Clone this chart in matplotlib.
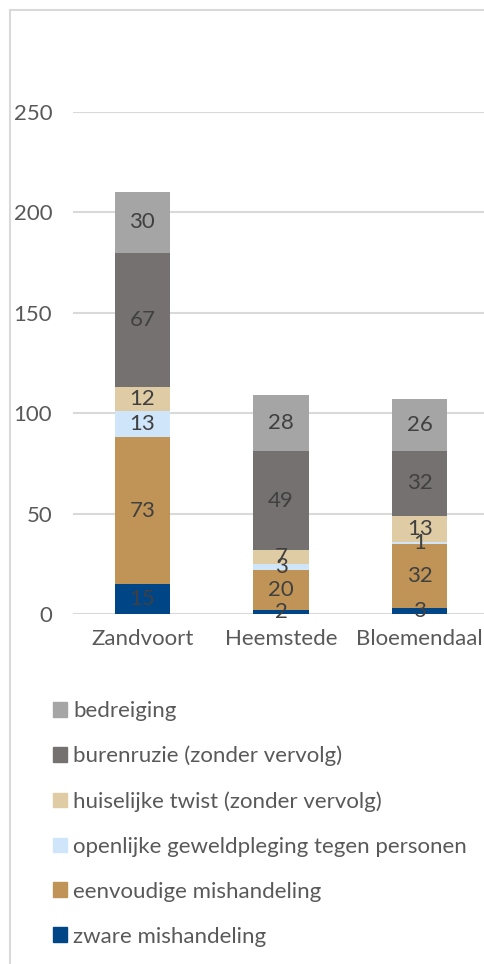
import matplotlib.pyplot as plt
from matplotlib.patches import Rectangle, Patch

plt.rcParams['font.family'] = ['Lato', 'DejaVu Sans']

# Data
gemeenten = ['Zandvoort', 'Heemstede', 'Bloemendaal']
categorieen = ['zware mishandeling', 'eenvoudige mishandeling',
               'openlijke geweldpleging tegen personen',
               'huiselijke twist (zonder vervolg)',
               'burenruzie (zonder vervolg)', 'bedreiging']
zware = [15, 2, 3]
eenvoudige = [73, 20, 32]
openlijke = [13, 3, 1]
huiselijke = [12, 7, 13]
burenruzie = [67, 49, 32]
bedreiging = [30, 28, 26]
reeksen = [zware, eenvoudige, openlijke, huiselijke, burenruzie, bedreiging]
kleuren = ['#004586', '#BF9456', '#CFE6FA', '#DFCBA4', '#767171', '#A5A5A5']
yticks = [0, 50, 100, 150, 200, 250]

W, H = 484, 964
fig = plt.figure(figsize=(W / 100, H / 100), dpi=100)
ax = fig.add_axes([73 / W, (H - 614) / H, 416 / W, 502 / H])

x = list(range(len(gemeenten)))
bottom = [0] * len(gemeenten)
for vals, kleur, naam in zip(reeksen, kleuren, categorieen):
    ax.bar(x, vals, width=0.4, bottom=bottom, color=kleur, label=naam, zorder=3)
    for xi, b, v in zip(x, bottom, vals):
        ax.text(xi, b + v / 2, str(v), ha='center', va='center',
                fontsize=16, color='#404040', zorder=4)
    bottom = [b + v for b, v in zip(bottom, vals)]

ax.set_xlim(-0.5, 2.5)
ax.set_ylim(0, 250)
ax.set_yticks(yticks)
ax.set_xticks(x)
ax.set_xticklabels(gemeenten)
ax.grid(axis='y', color='#D9D9D9', linewidth=1.5, zorder=0)
for s in ax.spines.values():
    s.set_visible(False)
ax.tick_params(length=0, labelsize=16, colors='#595959')
ax.tick_params(axis='y', pad=15)
ax.tick_params(axis='x', pad=11)

# legend, top entry first
handles = [Patch(color=k) for k in kleuren][::-1]
fig.legend(handles, categorieen[::-1], loc='upper left',
           bbox_to_anchor=(44 / W, 1 - 692 / H), frameon=False,
           fontsize=16, labelcolor='#595959', handlelength=0.65,
           handleheight=0.65, handletextpad=0.25, labelspacing=1.12,
           borderaxespad=0)

# chart border
fig.patches.append(Rectangle((10 / W, -0.01), 1.0, 1 - 10 / H + 0.01,
                             transform=fig.transFigure, fill=False,
                             edgecolor='#D9D9D9', linewidth=1.5))

fig.savefig('out.png', dpi=100)
